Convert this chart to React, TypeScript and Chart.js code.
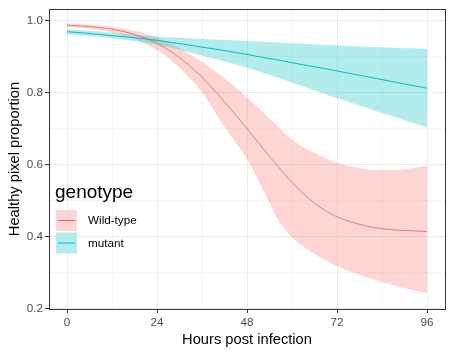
import React, { useEffect, useRef } from 'react';
import { Chart, registerables } from 'chart.js';

Chart.register(...registerables);

// ---- data ----
const hours = [0, 4, 8, 12, 16, 20, 24, 28, 32, 36, 40, 44, 48, 52, 56, 60, 64, 68, 72, 76, 80, 84, 88, 92, 96];
const wtFit = [0.987, 0.985, 0.981, 0.976, 0.967, 0.955, 0.937, 0.912, 0.88, 0.843, 0.798, 0.75, 0.7, 0.648, 0.598, 0.55, 0.51, 0.478, 0.455, 0.44, 0.429, 0.422, 0.418, 0.416, 0.414];
const wtLower = [0.982, 0.979, 0.974, 0.967, 0.956, 0.94, 0.918, 0.888, 0.848, 0.8, 0.737, 0.675, 0.615, 0.537, 0.452, 0.398, 0.365, 0.34, 0.318, 0.301, 0.287, 0.274, 0.263, 0.252, 0.243];
const wtUpper = [0.992, 0.99, 0.987, 0.983, 0.976, 0.967, 0.953, 0.934, 0.911, 0.885, 0.856, 0.823, 0.787, 0.748, 0.708, 0.67, 0.643, 0.622, 0.605, 0.594, 0.587, 0.584, 0.585, 0.59, 0.597];
const mutFit = [0.969, 0.966, 0.962, 0.958, 0.954, 0.95, 0.945, 0.939, 0.933, 0.926, 0.92, 0.913, 0.906, 0.898, 0.891, 0.883, 0.875, 0.868, 0.86, 0.852, 0.844, 0.836, 0.828, 0.82, 0.812];
const mutLower = [0.961, 0.958, 0.955, 0.951, 0.946, 0.94, 0.933, 0.924, 0.914, 0.903, 0.892, 0.881, 0.869, 0.856, 0.842, 0.828, 0.813, 0.799, 0.784, 0.771, 0.757, 0.743, 0.73, 0.716, 0.703];
const mutUpper = [0.976, 0.973, 0.97, 0.966, 0.962, 0.958, 0.955, 0.953, 0.951, 0.949, 0.947, 0.945, 0.943, 0.941, 0.939, 0.937, 0.935, 0.933, 0.931, 0.929, 0.927, 0.926, 0.924, 0.923, 0.921];

const genotypes = ['Wild-type', 'mutant'];
const legendTitle = 'genotype';
const xTitle = 'Hours post infection';
const yTitle = 'Healthy pixel proportion';
const xMajor = [0, 24, 48, 72, 96];
const xMinor = [12, 36, 60, 84];
const yMajor = [0.2, 0.4, 0.6, 0.8, 1.0];
const yMinor = [0.3, 0.5, 0.7, 0.9];

// ---- styles ----
const FONT = "'Liberation Sans', Arial, sans-serif";
const lineColors = ['#E0645C', '#00BFC4'];
const fillColors = ['rgba(248,118,109,0.3)', 'rgba(0,191,196,0.3)'];
const GRID = '#EBEBEB';
const DARK = '#333333';

const pts = (ys: number[]) => hours.map((h, i) => ({ x: h, y: ys[i] }));

const isMajorX = (v: number) => xMajor.some((m) => Math.abs(m - v) < 1e-6);
const isMajorY = (v: number) => yMajor.some((m) => Math.abs(m - v) < 1e-6);

const panelBorder = {
  id: 'panelBorder',
  afterDatasetsDraw(chart: any) {
    const { ctx, chartArea: a } = chart;
    ctx.save();
    ctx.strokeStyle = DARK;
    ctx.lineWidth = 1;
    ctx.strokeRect(a.left + 0.5, a.top + 0.5, a.right - a.left, a.bottom - a.top);
    ctx.restore();
  },
};

const ggLegend = {
  id: 'ggLegend',
  afterDraw(chart: any) {
    const { ctx } = chart;
    ctx.save();
    ctx.fillStyle = '#000';
    ctx.font = `19px ${FONT}`;
    ctx.textBaseline = 'middle';
    ctx.textAlign = 'left';
    ctx.fillText(legendTitle, 55, 193);
    const x0 = 56;
    const size = 21;
    genotypes.forEach((g, i) => {
      const y0 = 210 + i * 22.5;
      ctx.fillStyle = '#ffffff';
      ctx.fillRect(x0, y0, size, size);
      ctx.fillStyle = fillColors[i];
      ctx.fillRect(x0, y0, size, size);
      ctx.strokeStyle = lineColors[i];
      ctx.lineWidth = 1;
      ctx.beginPath();
      ctx.moveTo(x0 + 2, y0 + size / 2);
      ctx.lineTo(x0 + size - 2, y0 + size / 2);
      ctx.stroke();
      ctx.fillStyle = '#000';
      ctx.font = `11.7px ${FONT}`;
      ctx.fillText(g, 88, y0 + size / 2 + 0.5);
    });
    ctx.restore();
  },
};

export default function App() {
  const ref = useRef<HTMLCanvasElement>(null);

  useEffect(() => {
    if (!ref.current) return;
    const common = { pointRadius: 0, pointHoverRadius: 0, cubicInterpolationMode: 'monotone' as const };
    const chart = new Chart(ref.current, {
      type: 'line',
      data: {
        datasets: [
          { ...common, label: 'wtLower', data: pts(wtLower), borderWidth: 0, borderColor: 'rgba(0,0,0,0)', fill: false, order: 10 },
          { ...common, label: 'wtUpper', data: pts(wtUpper), borderWidth: 0, borderColor: 'rgba(0,0,0,0)', backgroundColor: fillColors[0], fill: '-1', order: 9 },
          { ...common, label: 'mutLower', data: pts(mutLower), borderWidth: 0, borderColor: 'rgba(0,0,0,0)', fill: false, order: 8 },
          { ...common, label: 'mutUpper', data: pts(mutUpper), borderWidth: 0, borderColor: 'rgba(0,0,0,0)', backgroundColor: fillColors[1], fill: '-1', order: 7 },
          { ...common, label: genotypes[0], data: pts(wtFit), borderWidth: 0.8, borderColor: lineColors[0], fill: false, order: 2 },
          { ...common, label: genotypes[1], data: pts(mutFit), borderWidth: 1, borderColor: lineColors[1], fill: false, order: 1 },
        ],
      },
      options: {
        responsive: false,
        animation: false,
        devicePixelRatio: 1,
        layout: { padding: { top: 7, right: 8, bottom: 0, left: 0 } },
        plugins: {
          legend: { display: false },
          tooltip: { enabled: false },
        },
        scales: {
          x: {
            type: 'linear',
            min: -4.8,
            max: 100.8,
            afterBuildTicks: (s: any) => {
              s.ticks = [...xMajor, ...xMinor].sort((a, b) => a - b).map((v) => ({ value: v }));
            },
            afterFit: (s: any) => {
              s.height = 46;
            },
            ticks: {
              autoSkip: false,
              maxRotation: 0,
              padding: 3,
              color: '#4D4D4D',
              font: { family: FONT, size: 11.7 },
              callback: (v: any) => (isMajorX(Number(v)) ? String(v) : ''),
            },
            grid: {
              color: GRID,
              lineWidth: (c: any) => (c.tick && isMajorX(c.tick.value) ? 1 : 0.5),
              tickLength: 4,
              tickWidth: 1,
              tickColor: (c: any) => (c.tick && isMajorX(c.tick.value) ? DARK : 'rgba(0,0,0,0)'),
            },
            border: { display: false },
            title: {
              display: true,
              text: xTitle,
              color: '#000',
              font: { family: FONT, size: 14.7 },
              padding: { top: 0, bottom: 6 },
            },
          },
          y: {
            type: 'linear',
            min: 0.199,
            max: 1.032,
            afterBuildTicks: (s: any) => {
              s.ticks = [...yMajor, ...yMinor].sort((a, b) => a - b).map((v) => ({ value: v }));
            },
            afterFit: (s: any) => {
              s.width = 49;
            },
            ticks: {
              autoSkip: false,
              padding: 2,
              color: '#4D4D4D',
              font: { family: FONT, size: 11.7 },
              callback: (v: any) => (isMajorY(Number(v)) ? Number(v).toFixed(1) : ''),
            },
            grid: {
              color: GRID,
              lineWidth: (c: any) => (c.tick && isMajorY(c.tick.value) ? 1 : 0.5),
              tickLength: 4,
              tickWidth: 1,
              tickColor: (c: any) => (c.tick && isMajorY(c.tick.value) ? DARK : 'rgba(0,0,0,0)'),
            },
            border: { display: false },
            title: {
              display: true,
              text: yTitle,
              color: '#000',
              font: { family: FONT, size: 14.7 },
              padding: { top: 6, bottom: 0 },
            },
          },
        },
      },
      plugins: [panelBorder, ggLegend],
    });
    return () => chart.destroy();
  }, []);

  return (
    <div style={{ position: 'absolute', left: 0, top: 0, width: 453, height: 355, background: '#fff' }}>
      <canvas ref={ref} width={453} height={355} style={{ display: 'block' }} />
    </div>
  );
}
